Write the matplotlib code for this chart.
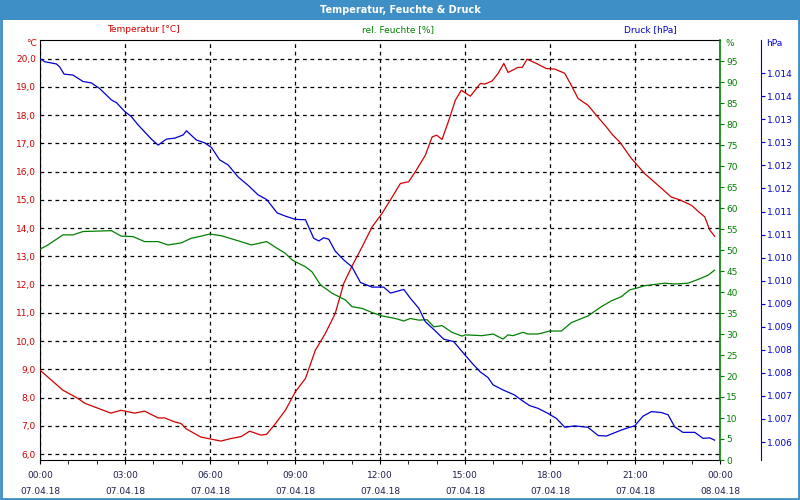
import matplotlib
matplotlib.use("Agg")
import matplotlib.pyplot as plt
from matplotlib.patches import Rectangle

# Zeitpunkte in Stunden ab 07.04.18 00:00
temp_hours = [0.0, 0.81, 1.34, 1.58, 2.05, 2.50, 2.86, 3.34, 3.69, 4.17, 4.40, 4.75, 4.98,
              5.15, 5.68, 6.04, 6.38, 6.74, 7.10, 7.40, 7.80, 8.00, 8.31, 8.66, 9.01, 9.37,
              9.72, 10.07, 10.42, 10.72, 11.00, 11.37, 11.72, 12.07, 12.43, 12.72, 13.01,
              13.25, 13.60, 13.84, 14.00, 14.19, 14.43, 14.66, 14.87, 15.19, 15.54, 15.70,
              15.96, 16.17, 16.37, 16.52, 16.87, 17.02, 17.19, 17.46, 17.87, 18.17, 18.52,
              18.75, 18.99, 19.34, 19.58, 19.99, 20.22, 20.46, 20.87, 21.34, 21.81, 22.28,
              22.58, 22.99, 23.29, 23.46, 23.64, 23.81]
temperature = [8.97, 8.26, 7.97, 7.80, 7.62, 7.45, 7.55, 7.45, 7.52, 7.28, 7.28, 7.14, 7.08,
               6.90, 6.60, 6.53, 6.46, 6.55, 6.62, 6.81, 6.67, 6.70, 7.08, 7.55, 8.20, 8.68,
               9.68, 10.27, 10.98, 12.04, 12.63, 13.34, 14.04, 14.52, 15.10, 15.58, 15.64,
               16.00, 16.58, 17.23, 17.29, 17.14, 17.82, 18.53, 18.88, 18.67, 19.12, 19.10,
               19.21, 19.48, 19.83, 19.51, 19.69, 19.69, 19.98, 19.86, 19.65, 19.63, 19.48,
               19.06, 18.59, 18.35, 18.06, 17.58, 17.29, 17.05, 16.47, 15.93, 15.52, 15.10,
               15.00, 14.81, 14.54, 14.40, 13.93, 13.71]

hum_hours = [0.0, 0.28, 0.81, 1.16, 1.52, 2.52, 2.87, 3.28, 3.69, 4.17, 4.52, 4.99, 5.34,
             5.69, 5.99, 6.40, 6.99, 7.46, 8.00, 8.37, 8.66, 8.90, 9.37, 9.60, 9.90, 10.31,
             10.78, 11.01, 11.37, 11.72, 12.07, 12.54, 12.84, 13.07, 13.37, 13.66, 13.90,
             14.19, 14.54, 14.90, 15.01, 15.60, 15.99, 16.34, 16.52, 16.69, 17.05, 17.22,
             17.58, 17.99, 18.40, 18.75, 19.34, 19.81, 20.17, 20.52, 20.81, 21.05, 21.34,
             22.05, 22.40, 22.87, 23.23, 23.58, 23.81]
humidity = [50.2, 51.2, 53.6, 53.6, 54.4, 54.6, 53.3, 53.2, 52.0, 52.0, 51.2, 51.7, 52.8,
            53.3, 53.8, 53.4, 52.2, 51.2, 52.0, 50.4, 49.2, 47.6, 46.0, 44.8, 41.7, 39.7,
            38.1, 36.5, 36.1, 35.1, 34.3, 33.7, 33.1, 33.7, 33.3, 33.4, 31.7,
            32.0, 30.4, 29.5, 29.8, 29.6, 30.0, 28.8, 29.8, 29.6, 30.4, 30.0,
            30.0, 30.7, 30.7, 32.7, 34.3, 36.5, 37.9, 38.9, 40.5, 40.9, 41.5,
            42.1, 41.9, 42.1, 43.0, 44.0, 45.2]

press_hours = [0.0, 0.16, 0.58, 0.69, 0.85, 1.16, 1.52, 1.81, 2.10, 2.52, 2.70, 2.99, 3.22,
               3.46, 3.93, 4.17, 4.46, 4.75, 5.05, 5.17, 5.52, 5.81, 6.05, 6.34, 6.64, 6.99,
               7.34, 7.70, 8.00, 8.37, 8.66, 9.01, 9.37, 9.66, 9.84, 10.01, 10.19, 10.42,
               10.72, 11.01, 11.31, 11.72, 12.13, 12.37, 12.84, 13.07, 13.37, 13.60, 13.90,
               14.25, 14.60, 14.90, 15.25, 15.54, 15.81, 15.99, 16.34, 16.75, 16.99, 17.28,
               17.58, 17.93, 18.23, 18.52, 18.87, 19.34, 19.70, 19.99, 20.52, 20.81, 20.99,
               21.28, 21.58, 21.93, 22.17, 22.40, 22.69, 23.11, 23.40, 23.64, 23.81]
pressure = [1014.32, 1014.25, 1014.20, 1014.14, 1013.98, 1013.96, 1013.82, 1013.79, 1013.67,
            1013.42, 1013.36, 1013.17, 1013.06, 1012.88, 1012.57, 1012.44, 1012.57, 1012.59,
            1012.66, 1012.75, 1012.55, 1012.49, 1012.39, 1012.12, 1012.01, 1011.75, 1011.57,
            1011.36, 1011.26, 1010.97, 1010.90, 1010.83, 1010.82, 1010.42, 1010.36, 1010.43,
            1010.40, 1010.14, 1009.95, 1009.80, 1009.46, 1009.36, 1009.36, 1009.23, 1009.31,
            1009.12, 1008.90, 1008.61, 1008.44, 1008.23, 1008.18, 1007.96, 1007.71, 1007.52,
            1007.40, 1007.24, 1007.13, 1007.02, 1006.91, 1006.79, 1006.73, 1006.62, 1006.51,
            1006.32, 1006.35, 1006.32, 1006.14, 1006.13, 1006.26, 1006.32, 1006.35, 1006.56,
            1006.66, 1006.64, 1006.59, 1006.33, 1006.21, 1006.21, 1006.08, 1006.09, 1006.04]

x_ticks = [0, 3, 6, 9, 12, 15, 18, 21, 24]
x_labels = ["00:00\n07.04.18", "03:00\n07.04.18", "06:00\n07.04.18", "09:00\n07.04.18",
            "12:00\n07.04.18", "15:00\n07.04.18", "18:00\n07.04.18", "21:00\n07.04.18",
            "00:00\n08.04.18"]
temp_ticks = list(range(6, 21))
hum_ticks = list(range(0, 100, 5))
press_ticks = [1006.0 + 0.5 * i for i in range(17)]
press_labels = ["1.006", "1.007", "1.007", "1.008", "1.008", "1.009", "1.009", "1.010",
                "1.010", "1.011", "1.011", "1.012", "1.012", "1.013", "1.013", "1.014", "1.014"]

RED = "#d00000"
GREEN = "#008000"
BLUE = "#0000d0"
NAVY = "#202050"
BAR = "#3d8fc6"
FS = 6.5

plt.rcParams["font.family"] = ["DejaVu Sans"]

fig = plt.figure(figsize=(8, 5), dpi=100)
fig.patch.set_facecolor("white")

# Titelleiste und Rahmen
fig.add_artist(Rectangle((0, 0.96), 1, 0.04, transform=fig.transFigure,
                         facecolor=BAR, edgecolor="none"))
fig.add_artist(Rectangle((0.001, 0.002), 0.998, 0.996, transform=fig.transFigure,
                         facecolor="none", edgecolor=BAR, linewidth=2))
fig.text(0.5, 0.98, "Temperatur, Feuchte & Druck", color="white", fontsize=7,
         fontweight="bold", ha="center", va="center")

ax = fig.add_axes([0.05, 0.08, 0.85, 0.84])
ax.plot(temp_hours, temperature, color=RED, lw=0.9, zorder=3)
ax.set_xlim(0, 24)
ax.set_ylim(5.79, 20.66)
ax.set_yticks(temp_ticks)
ax.set_yticklabels([f"{t:.1f}".replace(".", ",") for t in temp_ticks])
ax.tick_params(axis="y", length=0, colors=RED, labelsize=FS, pad=3)
ax.set_xticks(x_ticks)
ax.set_xticklabels(x_labels, linespacing=2.0)
ax.set_xticks(range(0, 25), minor=True)
ax.tick_params(axis="x", which="both", direction="out", length=3, labelsize=FS,
               labelcolor=NAVY, pad=5)
ax.grid(True, color="black", linestyle=(0, (3, 3)), linewidth=0.9)
for s in ["left", "top", "bottom"]:
    ax.spines[s].set_color("black")
ax.spines["right"].set_visible(False)

ax2 = ax.twinx()
ax2.plot(hum_hours, humidity, color=GREEN, lw=0.9, zorder=3)
ax2.set_ylim(0, 100)
ax2.set_yticks(hum_ticks)
ax2.tick_params(axis="y", direction="out", length=3, colors=GREEN, labelsize=FS, pad=1.5)
ax2.spines["right"].set_color(GREEN)
ax2.spines["right"].set_linewidth(1.2)
for s in ["left", "top", "bottom"]:
    ax2.spines[s].set_visible(False)

ax3 = ax.twinx()
ax3.plot(press_hours, pressure, color=BLUE, lw=0.9, zorder=3)
ax3.set_ylim(1005.61, 1014.72)
ax3.set_yticks(press_ticks)
ax3.set_yticklabels(press_labels)
ax3.spines["right"].set_position(("axes", 1.06))
ax3.spines["right"].set_color(BLUE)
ax3.tick_params(axis="y", direction="out", length=3, colors=BLUE, labelsize=FS, pad=1.5)
for s in ["left", "top", "bottom"]:
    ax3.spines[s].set_visible(False)

# Legende/Einheiten oben
fig.text(143 / 800, 1 - 30 / 500, "Temperatur [°C]", color=RED, fontsize=FS, ha="center", va="center")
fig.text(398 / 800, 1 - 30 / 500, "rel. Feuchte [%]", color=GREEN, fontsize=FS, ha="center", va="center")
fig.text(650 / 800, 1 - 30 / 500, "Druck [hPa]", color=BLUE, fontsize=FS, ha="center", va="center")
fig.text(37 / 800, 1 - 44 / 500, "°C", color=RED, fontsize=FS, ha="right", va="center")
fig.text(725 / 800, 1 - 44 / 500, "%", color=GREEN, fontsize=FS, ha="left", va="center")
fig.text(766 / 800, 1 - 44 / 500, "hPa", color=BLUE, fontsize=FS, ha="left", va="center")

fig.savefig("out.png", dpi=100)
